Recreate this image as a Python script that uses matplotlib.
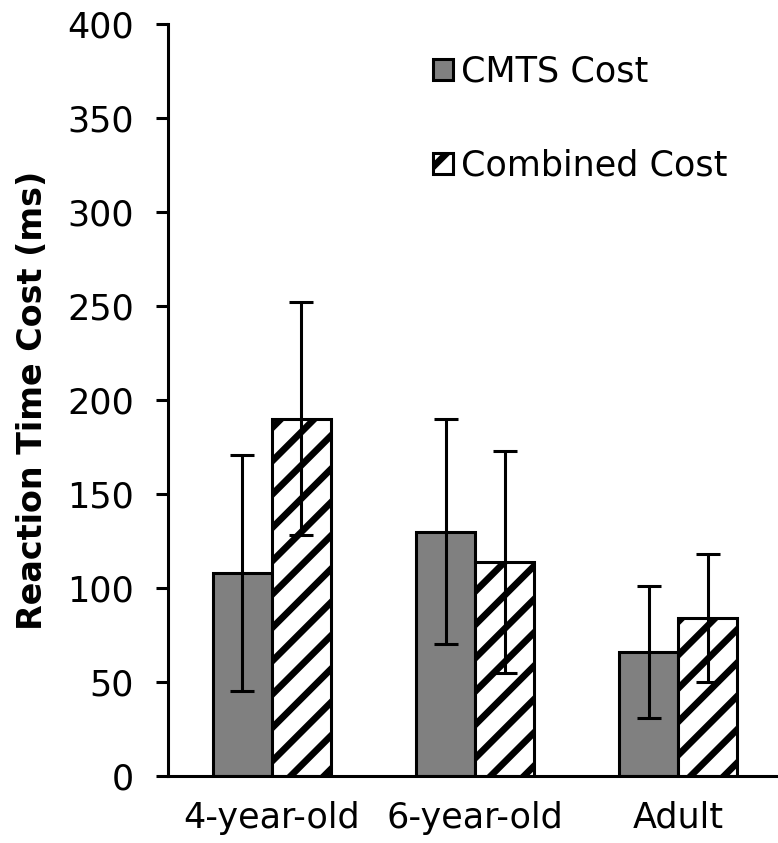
import numpy as np
import matplotlib
matplotlib.use("Agg")
from matplotlib import pyplot as plt

groups = ['4-year-old', '6-year-old', 'Adult']
cmts_cost = [108, 130, 66]
cmts_err = [63, 60, 35]
combined_cost = [190, 114, 84]
combined_err = [62, 59, 34]
y_ticks = [0, 50, 100, 150, 200, 250, 300, 350, 400]

plt.rcParams['font.family'] = ['DejaVu Sans']
plt.rcParams['hatch.linewidth'] = 2.4
plt.rcParams['hatch.color'] = 'black'

# drawn at dpi 200 so the hatch stripes come out wide like the original
fig = plt.figure(figsize=(3.89, 4.215), dpi=200)
ax = fig.add_axes([0.216, 0.0795, 0.784, 0.892])

x = np.arange(len(groups))
w = 0.29

ax.bar(x - w / 2, cmts_cost, w, color='#808080', edgecolor='black',
       linewidth=1.1, label='CMTS Cost', zorder=2)
ax.bar(x + w / 2, combined_cost, w, color='white', edgecolor='black',
       linewidth=1.1, hatch='//', label='Combined Cost', zorder=2)

ax.errorbar(x - w / 2, cmts_cost, yerr=cmts_err, fmt='none', ecolor='black',
            elinewidth=1.1, capsize=4.2, capthick=1.1, zorder=3)
ax.errorbar(x + w / 2, combined_cost, yerr=combined_err, fmt='none',
            ecolor='black', elinewidth=1.1, capsize=4.2, capthick=1.1, zorder=3)

ax.set_xlim(-0.51, 2.49)
ax.set_ylim(0, 400)
ax.set_yticks(y_ticks)
ax.set_xticks(x)
ax.set_xticklabels(groups, fontsize=12.6)
ax.tick_params(axis='x', length=0, pad=9)
ax.tick_params(axis='y', direction='out', length=4.3, width=1.1,
               labelsize=12.6, pad=8)

for side in ['top', 'right']:
    ax.spines[side].set_visible(False)
for side in ['left', 'bottom']:
    ax.spines[side].set_linewidth(1.1)

ax.set_ylabel('Reaction Time Cost (ms)', fontsize=12, fontweight='bold',
              labelpad=6.5)

ax.legend(loc='upper left', bbox_to_anchor=(0.557, 0.935),
          bbox_transform=fig.transFigure, frameon=False, fontsize=12.6,
          handlelength=0.55, handleheight=0.55, handletextpad=0.25,
          labelspacing=1.72, borderpad=0, borderaxespad=0)

fig.savefig('out.png', dpi=200)
